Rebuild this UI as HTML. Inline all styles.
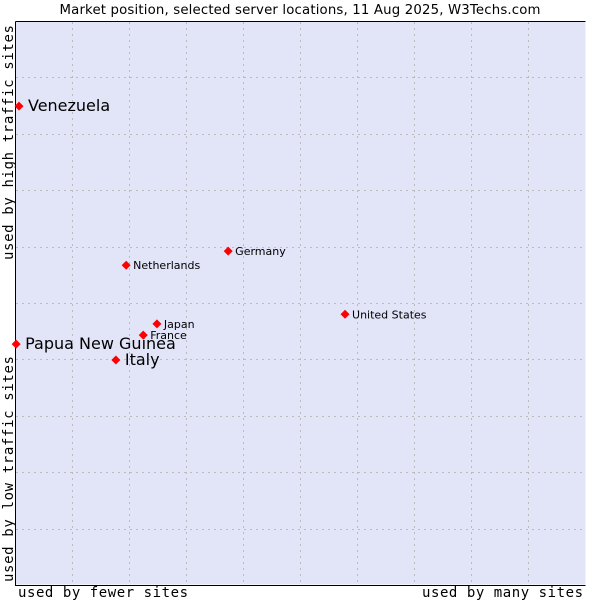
<!DOCTYPE html>
<html><head><meta charset="utf-8"><style>
body{margin:0;background:#fff;}
svg text{font-family:"DejaVu Sans","Liberation Sans",sans-serif;fill:#000;}
.mono{font-family:"DejaVu Sans Mono","Liberation Mono",monospace !important;}
</style></head><body>
<svg id="chart" width="600" height="600">
<text x="300" y="14" text-anchor="middle" font-size="13.3" fill="#222" textLength="481">Market position, selected server locations, 11 Aug 2025, W3Techs.com</text>
<rect x="15.5" y="21.5" width="570" height="563" fill="#e2e4f8" stroke="none"/>
<g id="grid"></g>
<path d="M15.5 21.5 H585.5 M15.5 21.5 V585.5 H585.5" stroke="#000" fill="none"/>
<text class="mono" x="18" y="597" font-size="14" textLength="170">used by fewer sites</text>
<text class="mono" x="422" y="597" font-size="14" textLength="161">used by many sites</text>
<text class="mono" transform="translate(13,260) rotate(-90)" font-size="14" textLength="235">used by high traffic sites</text>
<text class="mono" transform="translate(13,582) rotate(-90)" font-size="14" textLength="226">used by low traffic sites</text>
<g id="points"></g>
</svg>
<script>
const countries=["Venezuela","Papua New Guinea","Italy","Netherlands","Germany","United States","Japan","France"];
const xValues=[0.7,0.2,17.7,19.5,37.4,57.9,24.9,22.5];
const yValues=[84.9,42.7,39.9,56.7,59.2,48.0,46.3,44.3];
const bigLabel=[true,true,true,false,false,false,false,false];
const gridTicks=[10,20,30,40,50,60,70,80,90];
const NS="http://www.w3.org/2000/svg";
function sx(v){return 15+v*5.7;}
function sy(v){return 585-v*5.64;}
const grid=document.getElementById('grid');
gridTicks.forEach(t=>{
  const v=document.createElementNS(NS,'line');
  const x=Math.round(sx(t))+0.5;
  v.setAttribute('x1',x);v.setAttribute('x2',x);v.setAttribute('y1',22);v.setAttribute('y2',585);
  v.setAttribute('stroke','#bbb');v.setAttribute('stroke-dasharray','2,4');
  
  
  grid.appendChild(v);
  const h=document.createElementNS(NS,'line');
  const y=Math.round(sy(t))+0.5;
  h.setAttribute('x1',16);h.setAttribute('x2',585);h.setAttribute('y1',y);h.setAttribute('y2',y);
  h.setAttribute('stroke','#bbb');h.setAttribute('stroke-dasharray','2,4');
  
  
  grid.appendChild(h);
});
const pts=document.getElementById('points');
countries.forEach((c,i)=>{
  const x=sx(xValues[i]),y=sy(yValues[i]);
  const p=document.createElementNS(NS,'path');
  p.setAttribute('d',`M${x} ${y-4.5}L${x+4.5} ${y}L${x} ${y+4.5}L${x-4.5} ${y}Z`);
  p.setAttribute('fill','#f00');
  
  
  pts.appendChild(p);
  const t=document.createElementNS(NS,'text');
  t.setAttribute('x',x+(bigLabel[i]?9:7));
  t.setAttribute('y',y+(bigLabel[i]?5:4));
  t.setAttribute('font-size',bigLabel[i]?16:11);
  t.textContent=c;
  
  
  pts.appendChild(t);
});
</script>
</body></html>
